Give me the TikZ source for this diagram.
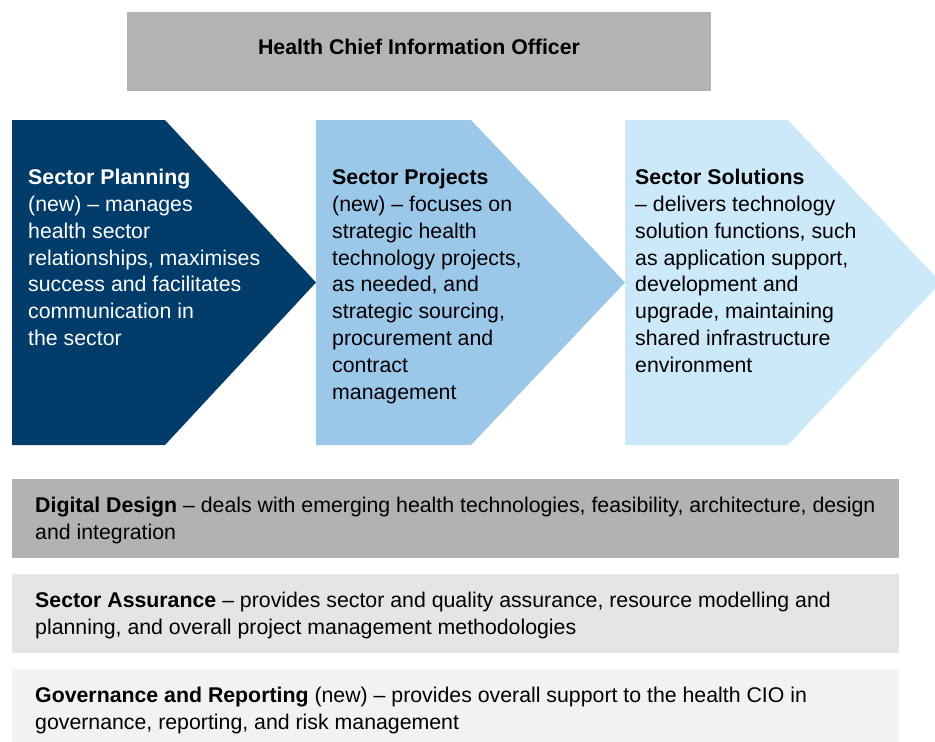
\documentclass[tikz,border=0pt]{standalone}
\usepackage{fontspec}
\setmainfont{Liberation Sans}
\definecolor{cioGray}{RGB}{179,179,179}
\definecolor{planNavy}{RGB}{1,60,106}
\definecolor{projBlue}{RGB}{155,200,233}
\definecolor{solBlue}{RGB}{204,233,249}
\definecolor{barDark}{RGB}{178,178,178}
\definecolor{barMid}{RGB}{229,229,229}
\definecolor{barLight}{RGB}{242,242,242}
\tikzset{
  bodytext/.style={inner sep=0pt, anchor=north west, align=left,
    font=\fontsize{21.3pt}{26.8pt}\selectfont},
  bartext/.style={bodytext, font=\fontsize{21.3pt}{27.2pt}\selectfont},
}
\begin{document}
\begin{tikzpicture}[x=1pt,y=-1pt]
\useasboundingbox (0,0) rectangle (935,742);
\clip (0,0) rectangle (935,742);
% head of the office
\fill[cioGray] (127,12) rectangle (711,91);
\node[inner sep=0pt, anchor=base, font=\fontsize{21.3pt}{26.8pt}\selectfont\bfseries]
  (cio) at (419,54) {Health Chief Information Officer};
% three chevrons
\fill[planNavy] (12,120) -- (165,120) -- (316,282.5) -- (165,445) -- (12,445) -- cycle;
\fill[projBlue] (316,120) -- (471,120) -- (625,282.5) -- (471,445) -- (316,445) -- cycle;
\fill[solBlue] (625,120) -- (788,120) -- (941,282.5) -- (788,445) -- (625,445) -- cycle;
\node[bodytext, text=white] (plan) at (28,169)
  {\textbf{Sector Planning}\\(new) – manages\\health sector\\relationships, maximises\\success and facilitates\\communication in\\the sector};
\node[bodytext] (proj) at (332,169)
  {\textbf{Sector Projects}\\(new) – focuses on\\strategic health\\technology projects,\\as needed, and\\strategic sourcing,\\procurement and\\contract\\management};
\node[bodytext] (sol) at (635,169)
  {\textbf{Sector Solutions}\\– delivers technology\\solution functions, such\\as application support,\\development and\\upgrade, maintaining\\shared infrastructure\\environment};
% shared service bars
\fill[barDark] (12,479) rectangle (899,558);
\fill[barMid] (12,574) rectangle (899,653);
\fill[barLight] (12,669) rectangle (899,742);
\node[bartext] (design) at (35,497)
  {\textbf{Digital Design} – deals with emerging health technologies, feasibility, architecture, design\\and integration};
\node[bartext] (assure) at (35,592)
  {\textbf{Sector Assurance} – provides sector and quality assurance, resource modelling and\\planning, and overall project management methodologies};
\node[bartext] (gov) at (35,687)
  {\textbf{Governance and Reporting} (new) – provides overall support to the health CIO in\\governance, reporting, and risk management};
\end{tikzpicture}
\end{document}
